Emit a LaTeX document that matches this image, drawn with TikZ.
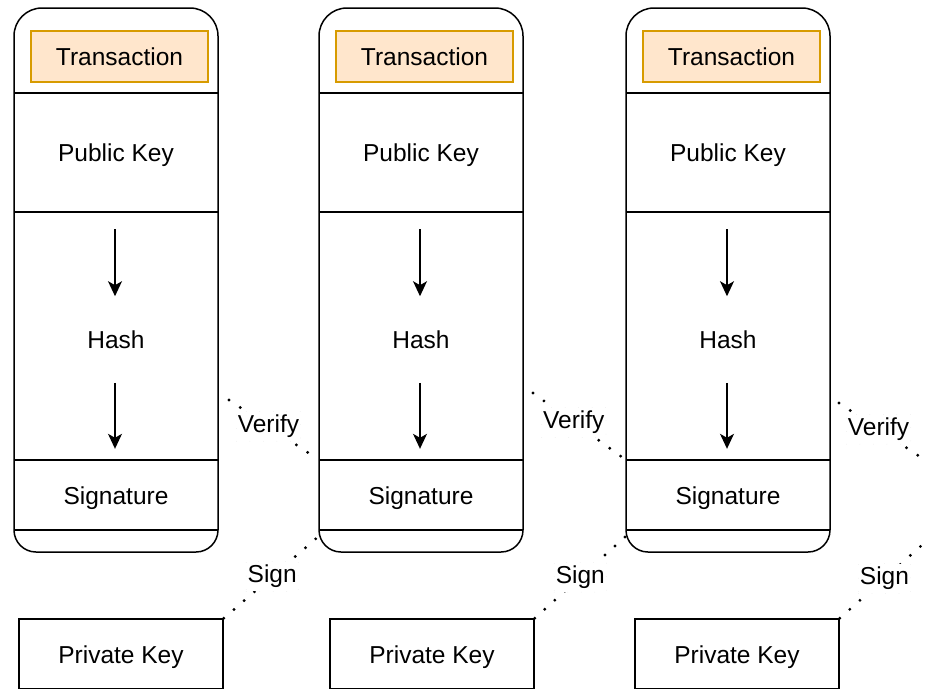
\documentclass[tikz,border=0pt]{standalone}
\usepackage{fontspec}
\setmainfont{Liberation Sans}
\usetikzlibrary{arrows.meta}
\definecolor{txfill}{HTML}{FFE6CC}
\definecolor{txline}{HTML}{D79B00}
\newcommand\diagfont{\fontsize{24.5}{29}\selectfont}
\tikzset{
  frame/.style={draw=black, line width=1.5pt},
  plaincell/.style={minimum width=204pt, inner sep=0pt, font=\diagfont},
  cell/.style={plaincell, text height=23pt, text depth=5pt},
  txbox/.style={draw=txline, fill=txfill, line width=1.5pt, minimum width=177pt,
    minimum height=51pt, inner sep=0pt, font=\diagfont},
  keybox/.style={frame, minimum width=204pt, minimum height=70pt, inner sep=0pt,
    text height=23pt, text depth=5pt, font=\diagfont},
  flow/.style={line width=1.2pt, -{Stealth[length=15pt, width=14pt, inset=4pt]}},
  dots/.style={line width=3.2pt, line cap=round, dash pattern=on 0pt off 13.5pt},
  tag/.style={fill=white, draw=gray!25, line width=0.6pt, inner xsep=1.5pt,
    inner ysep=3.5pt, font=\diagfont},
}
\begin{document}
\begin{tikzpicture}[x=1pt, y=-1pt]
  \fill[white] (0,0) rectangle (925,688);
  \useasboundingbox (0,0) rectangle (925,688);

  % three transaction records, each with its private key below
  \foreach \i/\x/\px in {1/14/19, 2/319/330, 3/626/635} {
    % rounded outline of the record
    \draw[frame] (\x,300) [rounded corners=28pt] -- (\x,8) -- (\x+204,8) -- (\x+204,300)
      [rounded corners=22pt] -- (\x+204,552) -- (\x,552) -- cycle;
    \node[txbox] (tx\i) at (\x+105.5,56.5) {Transaction};
    \node[cell, minimum height=119pt] (pub\i) at (\x+102,152.5) {Public Key};
    \node[plaincell] (hash\i) at (\x+102,340) {Hash};
    \node[cell, minimum height=70pt] (sig\i) at (\x+102,495) {Signature};
    % compartment separators
    \draw[frame] (pub\i.north west) -- (pub\i.north east);
    \draw[frame] (pub\i.south west) -- (pub\i.south east);
    \draw[frame] (sig\i.north west) -- (sig\i.north east);
    \draw[frame] (sig\i.south west) -- (sig\i.south east);
    % hashing flow
    \draw[flow] ([xshift=-1pt, yshift=-17pt]pub\i.south) -- ([xshift=-1pt, yshift=-84pt]pub\i.south);
    \draw[flow] ([xshift=-1pt, yshift=77pt]sig\i.north) -- ([xshift=-1pt, yshift=11pt]sig\i.north);
    % private key
    \node[keybox] (priv\i) at (\px+102,654) {Private Key};
  }

  % verification links
  \coordinate (v1) at (229,400);
  \coordinate (v2) at (533,393);
  \coordinate (v3) at (839,403);
  \coordinate (v4) at (931,464);
  \draw[dots] (v1) -- (sig2.north west) node[tag, pos=0.44] (ver1) {Verify};
  \draw[dots] (v2) -- (sig3.north west) node[tag, pos=0.44] (ver2) {Verify};
  \draw[dots] (v3) -- (v4) node[tag, pos=0.43] (ver3) {Verify};

  % signing links
  \coordinate (s3) at (931,537);
  \draw[dots] (priv1.north east) -- ([yshift=-6pt]sig2.south west) node[tag, pos=0.51] (sign1) {Sign};
  \draw[dots] (priv2.north east) -- ([yshift=-6pt]sig3.south west) node[tag, pos=0.5] (sign2) {Sign};
  \draw[dots] (priv3.north east) -- (s3) node[tag, pos=0.49] (sign3) {Sign};
\end{tikzpicture}
\end{document}
